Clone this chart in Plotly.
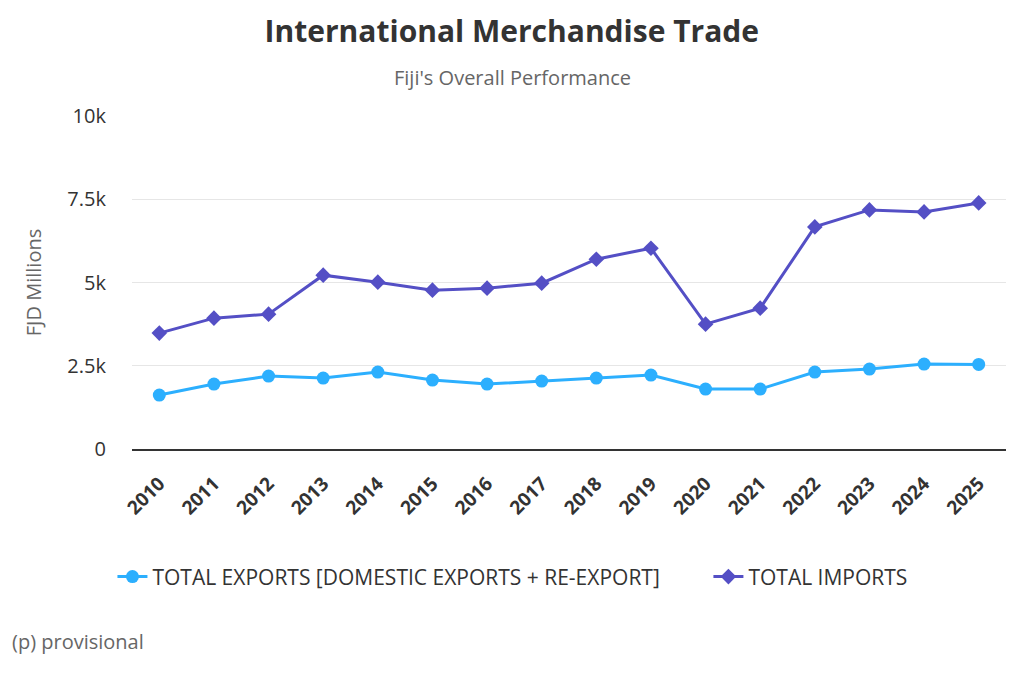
import plotly.graph_objects as go

years = [str(y) for y in range(2010, 2026)]
exports = [1620, 1950, 2190, 2130, 2310, 2070, 1950, 2040, 2130, 2220, 1800, 1800, 2310, 2400, 2550, 2540]
imports = [3480, 3930, 4050, 5220, 5010, 4770, 4830, 4980, 5700, 6030, 3750, 4230, 6670, 7180, 7120, 7390]
ytick_vals = [0, 2500, 5000, 7500, 10000]
ytick_text = ['0', '2.5k', '5k', '7.5k', '10k']

fig = go.Figure()
fig.add_trace(go.Scatter(x=years, y=exports, mode='lines+markers',
                         name='TOTAL EXPORTS [DOMESTIC EXPORTS + RE-EXPORT]',
                         line=dict(color='#2caffe', width=3),
                         marker=dict(symbol='circle', size=13, color='#2caffe'),
                         legend='legend'))
fig.add_trace(go.Scatter(x=years, y=imports, mode='lines+markers',
                         name='TOTAL IMPORTS',
                         line=dict(color='#544fc5', width=3),
                         marker=dict(symbol='diamond', size=12, color='#544fc5'),
                         legend='legend2'))

leg_style = dict(orientation='h', xanchor='left', xref='container', yref='container',
                 y=0.167, yanchor='middle', font=dict(size=21, color='#333333'), itemwidth=30)

fig.update_layout(
    width=1024, height=683,
    paper_bgcolor='white', plot_bgcolor='white',
    font=dict(family='Open Sans', color='#333333'),
    margin=dict(l=124, r=26, t=108, b=242),
    title=dict(text='<b>International Merchandise Trade</b>', x=0.492, xanchor='center',
               y=0.965, yanchor='middle', font=dict(size=30, color='#333333')),
    annotations=[
        dict(text="Fiji's Overall Performance", xref='paper', yref='paper', x=0.435, y=1.0,
             xanchor='center', yanchor='middle', yshift=39, showarrow=False,
             font=dict(size=20, color='#666666')),
        dict(text='(p) provisional', xref='paper', yref='paper', x=-0.1396, y=0,
             xanchor='left', yanchor='middle', yshift=-192, showarrow=False,
             font=dict(size=20, color='#666666')),
    ],
    legend=dict(leg_style, x=0.102),
    legend2=dict(leg_style, x=0.684),
    showlegend=True,
)
fig.update_xaxes(type='category', showgrid=False, showline=True, linecolor='#333333', linewidth=2,
                 tickangle=-45, tickvals=years, ticktext=['<b>' + y + '</b>' for y in years],
                 tickfont=dict(size=19, color='#333333'), ticklabelstandoff=14,
                 ticks='', range=[-0.5, 15.5])
fig.update_yaxes(range=[0, 10000], tickvals=ytick_vals, ticktext=ytick_text,
                 gridcolor='#e6e6e6', gridwidth=1, zeroline=False, showline=False,
                 tickfont=dict(size=20, color='#333333'), ticklabelstandoff=25,
                 title=dict(text='FJD Millions', font=dict(size=20, color='#666666'), standoff=20))

fig.write_html('out.html')
